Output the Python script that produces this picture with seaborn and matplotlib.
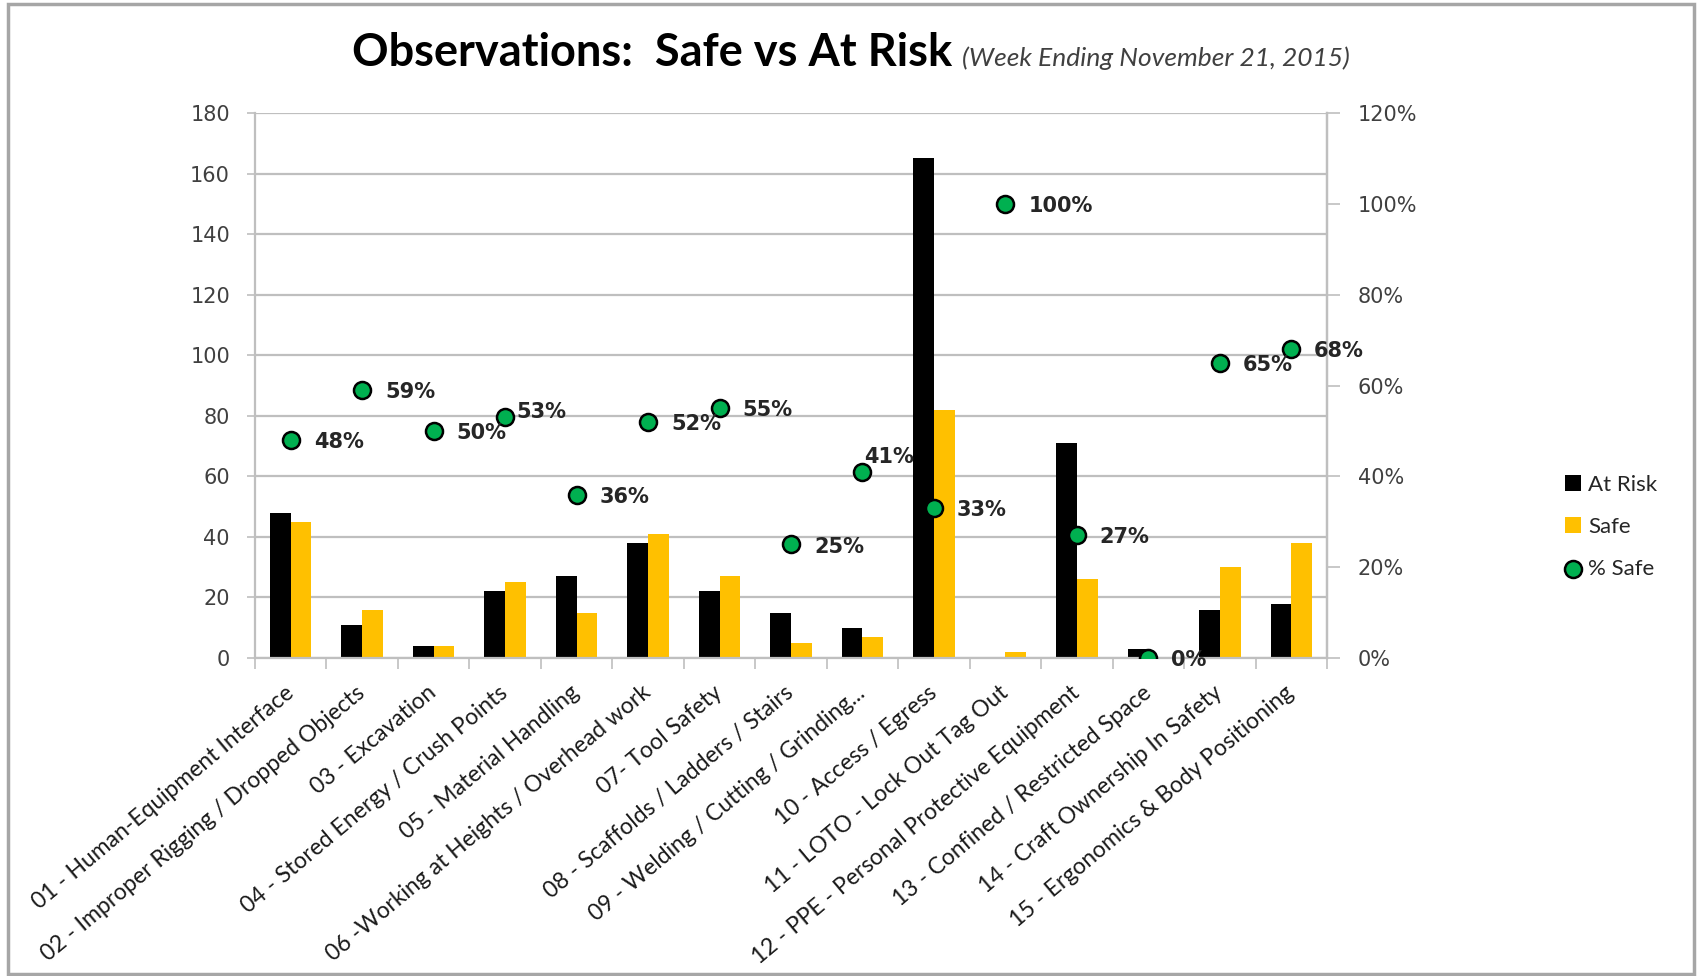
import matplotlib
matplotlib.use("Agg")
import matplotlib.pyplot as plt
import matplotlib.patches as mpatches
from matplotlib.ticker import PercentFormatter, FixedLocator
import seaborn as sns
import numpy as np
import pandas as pd

CATEGORIES = [
    "01 - Human-Equipment Interface",
    "02 - Improper Rigging / Dropped Objects",
    "03 - Excavation",
    "04 - Stored Energy / Crush Points",
    "05 - Material Handling",
    "06 -Working at Heights / Overhead work",
    "07- Tool Safety",
    "08 - Scaffolds / Ladders / Stairs",
    "09 - Welding / Cutting / Grinding...",
    "10 - Access / Egress",
    "11 - LOTO - Lock Out Tag Out",
    "12 - PPE - Personal Protective Equipment",
    "13 - Confined / Restricted Space",
    "14 - Craft Ownership In Safety",
    "15 - Ergonomics & Body Positioning",
]
AT_RISK = [48, 11, 4, 22, 27, 38, 22, 15, 10, 165, 0, 71, 3, 16, 18]
SAFE = [45, 16, 4, 25, 15, 41, 27, 5, 7, 82, 2, 26, 0, 30, 38]
PCT_SAFE = [48, 59, 50, 53, 36, 52, 55, 25, 41, 33, 100, 27, 0, 65, 68]

COUNT_TICKS = list(range(0, 181, 20))
PCT_TICKS = [0, 0.2, 0.4, 0.6, 0.8, 1.0, 1.2]

BLACK, GOLD, GREEN = "#000000", "#FFC000", "#00B050"
GRID = "#BFBFBF"
TEXT = "#404040"

# manual nudges for a couple of the % labels (points)
LABEL_OFFSETS = {3: (8, 3.5), 8: (1, 10.5)}
DEFAULT_OFFSET = (16.5, -1.5)

sns.set_theme(style="white")
plt.rcParams["font.family"] = ["DejaVu Sans"]

df = pd.DataFrame({
    "category": CATEGORIES * 2,
    "count": AT_RISK + SAFE,
    "series": ["At Risk"] * len(CATEGORIES) + ["Safe"] * len(CATEGORIES),
})

fig = plt.figure(figsize=(17, 9.76), dpi=100)
ax = fig.add_axes([255 / 1700, 1 - 658 / 976, (1327 - 255) / 1700, (658 - 113) / 976])

sns.barplot(data=df, x="category", y="count", hue="series",
            palette={"At Risk": BLACK, "Safe": GOLD}, width=0.58,
            saturation=1, linewidth=0, ax=ax)
bar_handles, bar_labels = ax.get_legend_handles_labels()
ax.get_legend().remove()

ax.set_ylim(0, 180)
ax.set_xlim(-0.5, len(CATEGORIES) - 0.5)
ax.set_yticks(COUNT_TICKS)
ax.yaxis.grid(True, color=GRID, linewidth=1.6)
ax.set_axisbelow(True)
ax.set_xlabel("")
ax.set_ylabel("")
ax.spines["top"].set_visible(False)
for side in ["left", "bottom", "right"]:
    ax.spines[side].set_color(GRID)
    ax.spines[side].set_linewidth(1.6)

ax.tick_params(axis="y", which="major", length=6, width=1.2, color=GRID,
               labelsize=15, labelcolor=TEXT, pad=12, left=True)
ax.xaxis.set_minor_locator(FixedLocator(np.arange(-0.5, len(CATEGORIES), 1.0)))
ax.tick_params(axis="x", which="minor", length=8, width=1.2, color=GRID, bottom=True)
ax.tick_params(axis="x", which="major", length=0, pad=23, labelsize=16.5, labelcolor="#1a1a1a")
for lbl in ax.get_xticklabels():
    lbl.set_rotation(40)
    lbl.set_ha("right")
    lbl.set_va("center")
    lbl.set_rotation_mode("anchor")
    lbl.set_family("Lato")

ax2 = ax.twinx()
x_idx = np.arange(len(CATEGORIES))
pct = np.array(PCT_SAFE) / 100
sns.scatterplot(x=x_idx, y=pct, color=GREEN, edgecolor="black", linewidth=1.8,
                s=150, zorder=4, legend=False, ax=ax2)
ax2.set_ylim(0, 1.2)
ax2.set_xlim(-0.5, len(CATEGORIES) - 0.5)
ax2.set_yticks(PCT_TICKS)
ax2.yaxis.set_major_formatter(PercentFormatter(1.0, decimals=0))
ax2.tick_params(axis="y", length=9, width=1.2, color=GRID, labelsize=15,
                labelcolor=TEXT, pad=13, right=True)
for side in ["top", "left", "bottom"]:
    ax2.spines[side].set_visible(False)
ax2.spines["right"].set_color(GRID)
ax2.spines["right"].set_linewidth(1.6)
ax2.grid(False)

for i, v in enumerate(PCT_SAFE):
    dx, dy = LABEL_OFFSETS.get(i, DEFAULT_OFFSET)
    ax2.annotate(f"{v}%", (x_idx[i], pct[i]), xytext=(dx, dy), textcoords="offset points",
                 ha="left", va="center", fontsize=15, fontweight="bold", color="#262626",
                 zorder=5)

dot_handle = ax2.collections[0]
fig.legend(bar_handles + [dot_handle], bar_labels + ["% Safe"],
           loc="center left", bbox_to_anchor=(1545 / 1700, 1 - 527 / 976),
           frameon=False, handlelength=0.7, handleheight=0.7, handletextpad=0.35,
           labelspacing=1.0, prop={"family": "Lato", "size": 16}, labelcolor="#262626")

fig.text(952 / 1700, 1 - 66 / 976, "Observations:  Safe vs At Risk", ha="right", va="baseline",
         fontsize=32.5, fontweight="bold", family="Lato", color="black")
fig.text(962 / 1700, 1 - 66 / 976, "(Week Ending November 21, 2015)", ha="left", va="baseline",
         fontsize=19, style="italic", family="Lato", color=TEXT)

fig.patches.append(mpatches.Rectangle((8 / 1700, 2 / 976), 1686 / 1700, 970 / 976,
                                      transform=fig.transFigure, fill=False,
                                      edgecolor="#A6A6A6", linewidth=2.5))

fig.savefig("out.png", dpi=100, facecolor="white")
